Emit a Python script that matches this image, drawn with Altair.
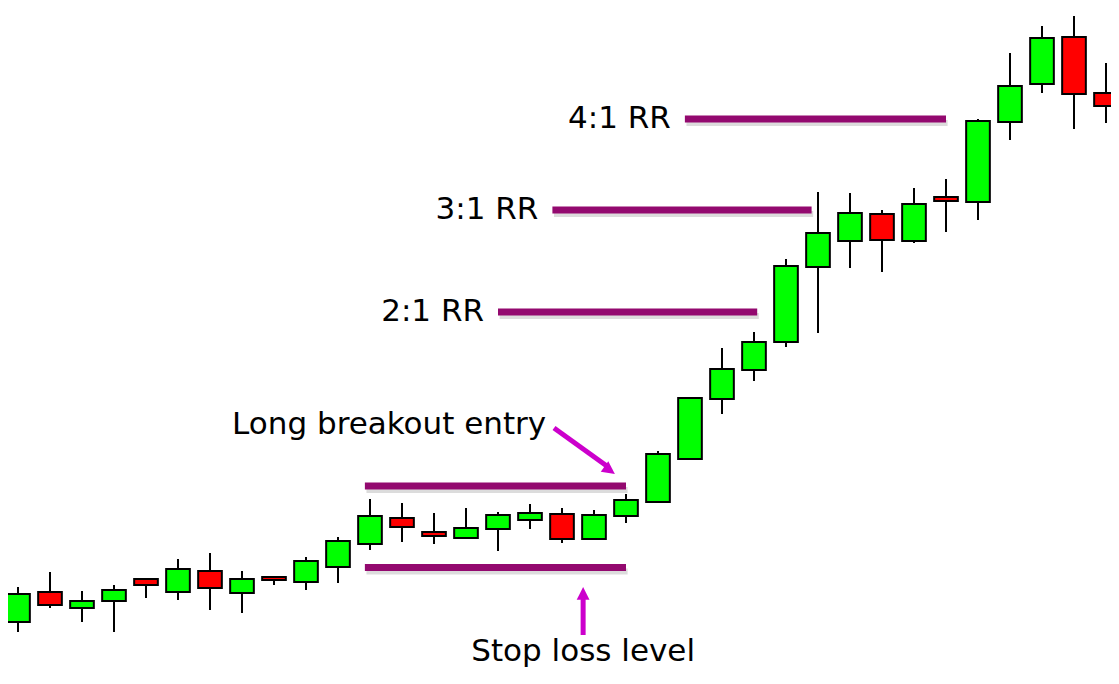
import altair as alt
import pandas as pd

# Candles (price units; higher = up)
opens  = [62, 92, 76, 83, 105, 92, 113, 91, 107, 102, 117, 140, 166, 152, 146, 155, 164, 170, 145, 168,
          182, 225, 285, 314, 342, 417, 443, 470, 443, 487, 482, 562, 600, 647, 591]
highs  = [97, 112, 93, 99, 105, 125, 131, 113, 108, 127, 147, 185, 181, 171, 176, 172, 180, 176, 174, 190,
          233, 287, 336, 352, 425, 492, 491, 474, 496, 505, 565, 631, 658, 668, 621]
lows   = [52, 76, 62, 52, 86, 84, 74, 71, 99, 94, 101, 134, 142, 140, 146, 133, 155, 141, 144, 161,
          181, 225, 270, 303, 337, 351, 416, 412, 441, 452, 464, 544, 591, 555, 561]
closes = [90, 79, 83, 94, 99, 115, 96, 105, 104, 123, 143, 168, 157, 148, 156, 169, 171, 145, 169, 184,
          230, 286, 315, 342, 418, 451, 471, 444, 480, 483, 563, 598, 646, 590, 578]

# Horizontal levels
level_prices = [198, 116.5, 372, 474, 565]
level_start  = [10.84, 10.84, 15.0, 16.7, 20.84]
level_end    = [19.0, 19.0, 23.1, 24.8, 29.0]
level_labels = ["", "", "2:1 RR", "3:1 RR", "4:1 RR"]

# Annotation notes
note_texts  = ["Long breakout entry", "Stop loss level"]
note_x      = [6.69, 17.66]
note_price  = [259, 32]
note_align  = ["left", "center"]

# Arrows (shaft start/end, head position, head angle)
arrow_x1 = [16.75, 17.66]
arrow_p1 = [256, 49]
arrow_x2 = [18.4, 17.66]
arrow_p2 = [218, 86]
head_x   = [18.45, 17.66]
head_p   = [214.7, 89]
head_ang = [126, 0]

candles = pd.DataFrame({
    "i": list(range(len(opens))),
    "open": opens, "high": highs, "low": lows, "close": closes,
})
candles["dir"] = ["up" if c >= o else "down" for o, c in zip(opens, closes)]

levels = pd.DataFrame({"p": level_prices, "x1": level_start, "x2": level_end, "label": level_labels})
notes = pd.DataFrame({"t": note_texts, "x": note_x, "p": note_price, "align": note_align})
arrows = pd.DataFrame({"x1": arrow_x1, "p1": arrow_p1, "x2": arrow_x2, "p2": arrow_p2,
                       "hx": head_x, "hp": head_p, "ang": head_ang})

W, H = 1103, 668
xs = alt.Scale(domain=[-10 / 32, (W - 10) / 32], nice=False, zero=False)
ys = alt.Scale(domain=[8, 8 + H], nice=False, zero=False)
noax = dict(axis=None)

base = alt.Chart(candles)
wicks = base.mark_rule(color="black", strokeWidth=2).encode(
    x=alt.X("i:Q", scale=xs, **noax),
    y=alt.Y("low:Q", scale=ys, **noax),
    y2="high:Q",
)
bodies = base.transform_calculate(
    xl="datum.i - 0.37", xr="datum.i + 0.37",
    bt="max(datum.open, datum.close)", bb="min(datum.open, datum.close)",
).mark_rect(stroke="black", strokeWidth=2).encode(
    x=alt.X("xl:Q", scale=xs, **noax),
    x2="xr:Q",
    y=alt.Y("bb:Q", scale=ys, **noax),
    y2="bt:Q",
    fill=alt.Fill("dir:N", scale=alt.Scale(domain=["up", "down"], range=["#00ff00", "#ff0000"]), legend=None),
)

lvl = alt.Chart(levels)
shadow = lvl.transform_calculate(ps="datum.p - 4", a="datum.x1 + 0.05", b="datum.x2 + 0.05").mark_rule(
    color="#8a8a8a", strokeWidth=6, opacity=0.3
).encode(
    x=alt.X("a:Q", scale=xs, **noax), x2="b:Q", y=alt.Y("ps:Q", scale=ys, **noax)
)
lines = lvl.mark_rule(color="#93096f", strokeWidth=7).encode(
    x=alt.X("x1:Q", scale=xs, **noax), x2="x2:Q", y=alt.Y("p:Q", scale=ys, **noax)
)
lbls = lvl.mark_text(align="right", baseline="middle", dx=-14, font="DejaVu Sans", fontSize=31, color="black").encode(
    x=alt.X("x1:Q", scale=xs, **noax), y=alt.Y("p:Q", scale=ys, **noax), text="label:N"
)

nt = alt.Chart(notes)
note_left = nt.transform_filter("datum.align == 'left'").mark_text(
    align="left", baseline="middle", font="DejaVu Sans", fontSize=31, color="black"
).encode(x=alt.X("x:Q", scale=xs, **noax), y=alt.Y("p:Q", scale=ys, **noax), text="t:N")
note_center = nt.transform_filter("datum.align == 'center'").mark_text(
    align="center", baseline="middle", font="DejaVu Sans", fontSize=31, color="black"
).encode(x=alt.X("x:Q", scale=xs, **noax), y=alt.Y("p:Q", scale=ys, **noax), text="t:N")

ar = alt.Chart(arrows)
shafts = ar.mark_rule(color="#cc00cc", strokeWidth=5).encode(
    x=alt.X("x1:Q", scale=xs, **noax), y=alt.Y("p1:Q", scale=ys, **noax), x2="x2:Q", y2="p2:Q"
)
heads = ar.mark_point(
    shape="M0,-1L0.8,0.6L-0.8,0.6Z", filled=True, size=256, color="#cc00cc", opacity=1
).encode(
    x=alt.X("hx:Q", scale=xs, **noax), y=alt.Y("hp:Q", scale=ys, **noax), angle=alt.Angle("ang:Q", scale=None)
)

chart = alt.layer(
    shadow, lines, wicks, bodies, lbls, note_left, note_center, shafts, heads
).properties(
    width=W, height=H, padding=0, background="white",
    autosize=alt.AutoSizeParams(type="none"),
).configure_view(stroke=None)

chart.save("out.html", embed_options={"renderer": "svg", "actions": False})
